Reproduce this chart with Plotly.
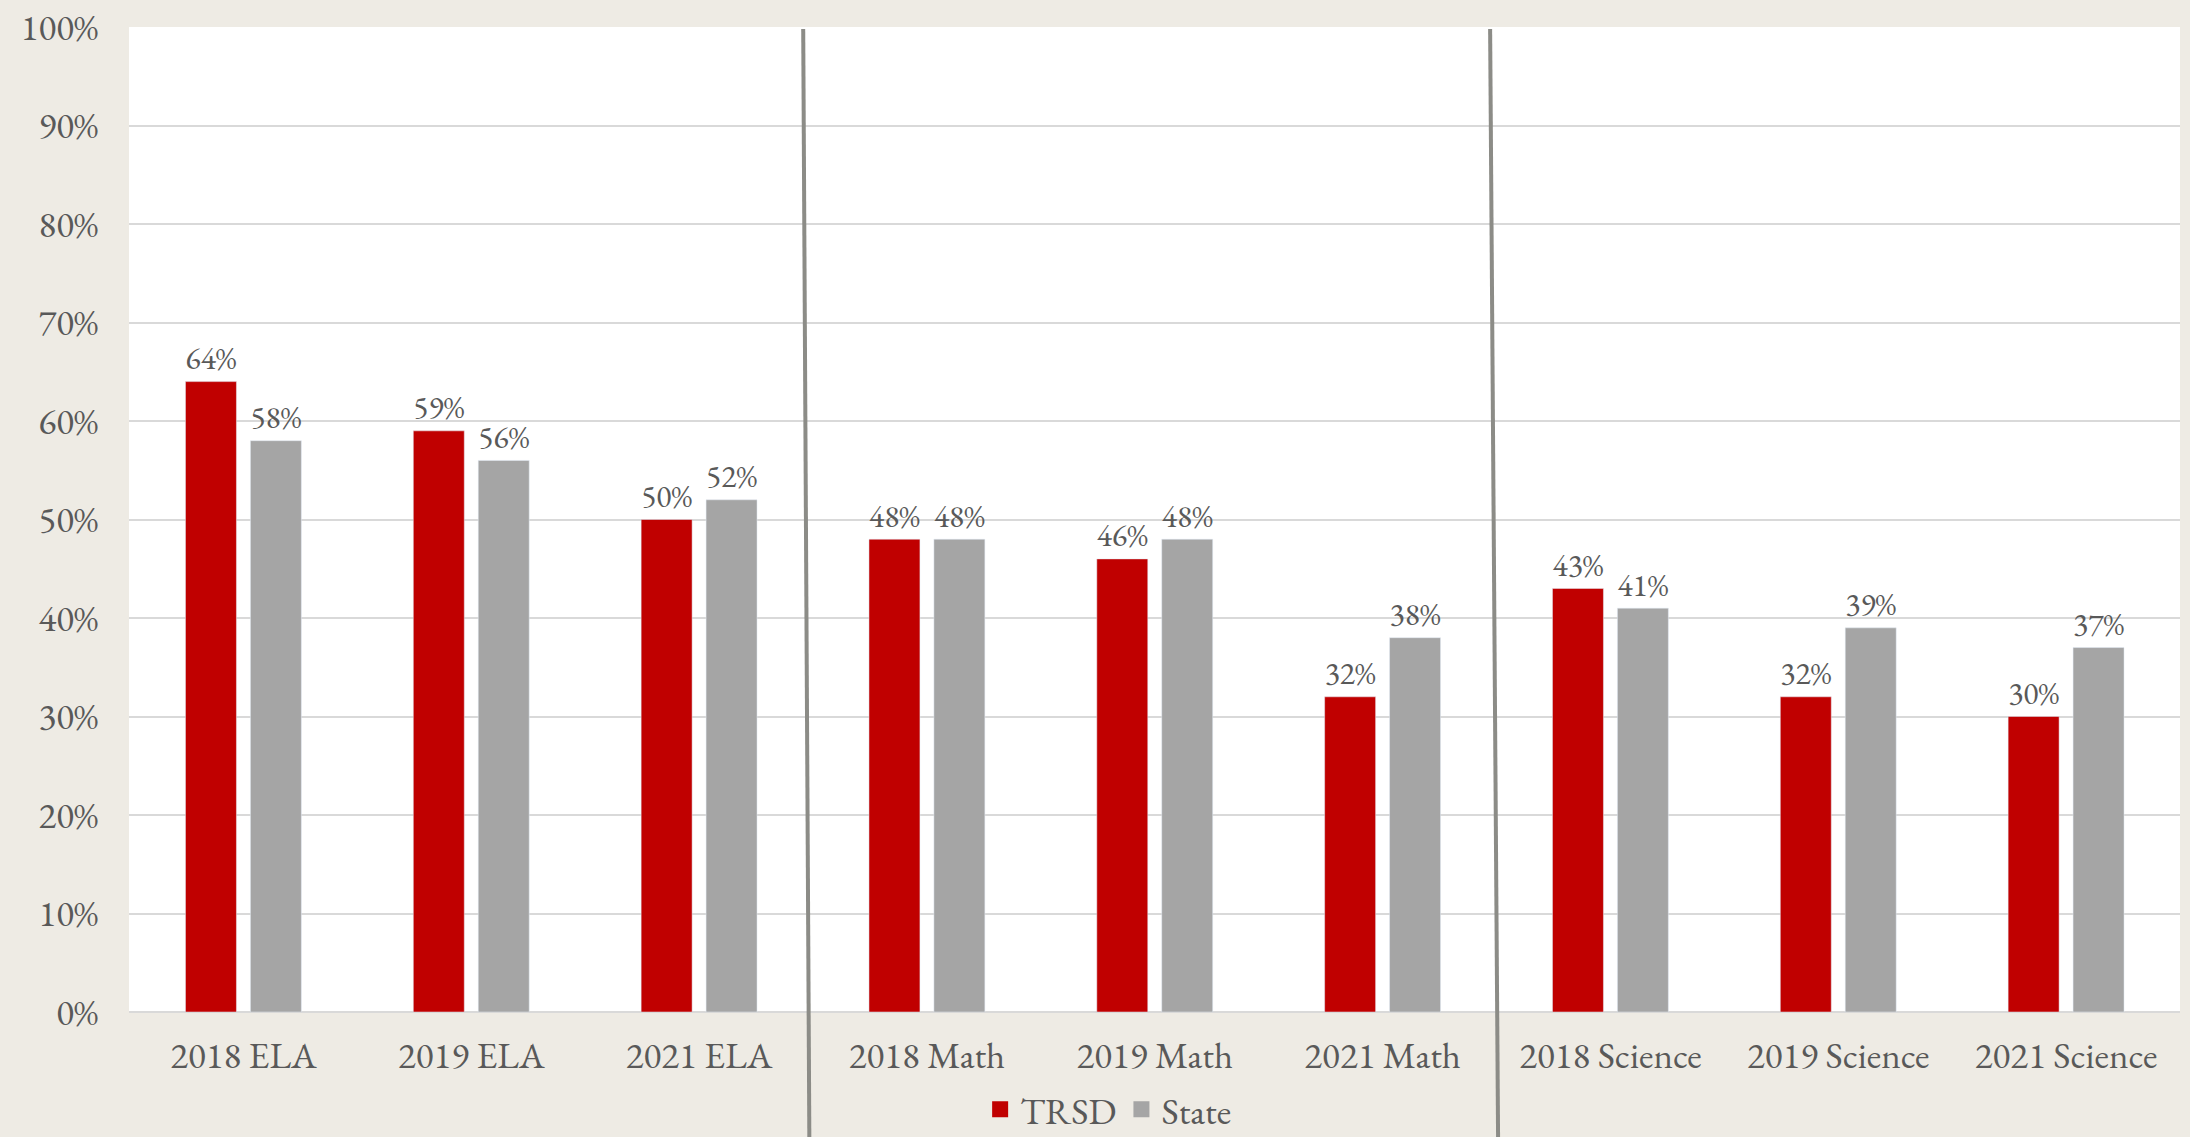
import plotly.graph_objects as go

categories = ["2018 ELA", "2019 ELA", "2021 ELA", "2018 Math", "2019 Math", "2021 Math",
              "2018 Science", "2019 Science", "2021 Science"]
trsd = [0.64, 0.59, 0.50, 0.48, 0.46, 0.32, 0.43, 0.32, 0.30]
state = [0.58, 0.56, 0.52, 0.48, 0.48, 0.38, 0.41, 0.39, 0.37]
y_ticks = [0, 0.1, 0.2, 0.3, 0.4, 0.5, 0.6, 0.7, 0.8, 0.9, 1.0]

FONT = "Garamond, 'EB Garamond', 'Liberation Serif', serif"
TXT = "#595959"
RED = "#C00000"
GRAY = "#A5A5A5"

fig = go.Figure()
fig.add_bar(x=categories, y=trsd, name="TRSD", marker_color=RED, showlegend=False,
            text=[f"{v:.0%}" for v in trsd], textposition="outside",
            textfont=dict(family=FONT, size=40, color=TXT), cliponaxis=False)
fig.add_bar(x=categories, y=state, name="State", marker_color=GRAY, showlegend=False,
            text=[f"{v:.0%}" for v in state], textposition="outside",
            textfont=dict(family=FONT, size=40, color=TXT), cliponaxis=False)
# legend entries with square swatches
fig.add_scatter(x=[categories[0]], y=[None], mode="markers", name="TRSD",
                marker=dict(symbol="square", size=19, color=RED))
fig.add_scatter(x=[categories[0]], y=[None], mode="markers", name="State",
                marker=dict(symbol="square", size=19, color=GRAY))

for top, bot in [(2.457, 2.484), (5.472, 5.507)]:
    fig.add_shape(type="line", xref="x", yref="paper", x0=top, x1=bot, y0=0.998, y1=-0.13,
                  line=dict(color="#8C8C87", width=4), layer="above")

fig.update_layout(
    width=2190, height=1137,
    paper_bgcolor="#EEEBE4", plot_bgcolor="#FFFFFF",
    margin=dict(l=129, r=10, t=27, b=125, autoexpand=False),
    barmode="group", bargap=0.43, bargroupgap=0.215,
    font=dict(family=FONT, size=37, color=TXT),
    showlegend=True,
    legend=dict(orientation="h", xref="container", yref="container",
                x=0.506, xanchor="center", y=0.024, yanchor="middle",
                font=dict(family=FONT, size=37, color=TXT), bgcolor="rgba(0,0,0,0)",
                itemwidth=30, traceorder="normal", itemsizing="trace"),
    xaxis=dict(showgrid=False, showline=False, ticks="", ticklabelstandoff=18, automargin=False,
               tickfont=dict(family=FONT, size=37, color=TXT)),
    yaxis=dict(range=[0, 1], tickvals=y_ticks, tickformat=".0%", showgrid=True, automargin=False,
               gridcolor="#D9D9D9", gridwidth=2, zeroline=True, zerolinecolor="#D9D9D9",
               zerolinewidth=2, ticks="", ticklabelstandoff=30, ticklabeloverflow="allow",
               tickfont=dict(family=FONT, size=37, color=TXT)),
)

fig.write_html("out.html", config={"displayModeBar": False},
               post_script="document.body.style.margin='0';document.body.style.overflow='hidden';")
